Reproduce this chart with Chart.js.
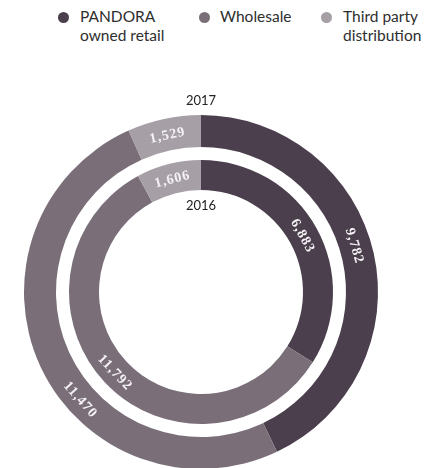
<!DOCTYPE html>
<html>
<head>
<meta charset="utf-8">
<script src="https://cdn.jsdelivr.net/npm/chart.js@4/dist/chart.umd.min.js"></script>
<style>
  html, body { margin: 0; padding: 0; background: #fff; overflow: hidden; }
  body { width: 439px; height: 468px; position: relative; }
  #wrap { position: absolute; left: 0; top: 0; width: 439px; height: 470px; }
  .lg { position: absolute; top: 7px; font: 15.5px Lato, sans-serif; line-height: 19px; color: #2e2e2e; }
  .dot { position: absolute; width: 11px; height: 11px; border-radius: 50%; top: 12px; }
</style>
</head>
<body>
<div id="legend"></div>
<div id="wrap"><canvas id="ringChart"></canvas></div>
<script>
let categories = ['PANDORA\nowned retail', 'Wholesale', 'Third party\ndistribution'];
let colors = ['#4b3f4d', '#7a6f79', '#a69fa6'];
let years = ['2017', '2016'];
let values2017 = [9782, 11470, 1529];
let values2016 = [6883, 11792, 1606];

// legend, html so the two-line labels wrap like the original
let legendPos = [[58, 80], [199, 220], [321, 343]];
let legend = document.getElementById('legend');
categories.forEach((c, i) => {
    let dot = document.createElement('div');
    dot.className = 'dot';
    dot.style.left = legendPos[i][0] + 'px';
    dot.style.background = colors[i];
    legend.appendChild(dot);
    let txt = document.createElement('div');
    txt.className = 'lg';
    txt.style.left = legendPos[i][1] + 'px';
    txt.innerHTML = c.replace('\n', '<br>');
    legend.appendChild(txt);
});

// small angle nudges (degrees) so labels sit where the original put them
let labelNudge = { 0: [-4, -17, 0], 2: [0, 0, 0] };

const ringLabels = {
    id: 'ringLabels',
    afterDatasetsDraw(chart) {
        let ctx = chart.ctx;
        ctx.save();
        ctx.fillStyle = '#f4f2f4';
        ctx.font = 'bold 14px "Liberation Serif", serif';
        ctx.letterSpacing = '1px';
        ctx.textAlign = 'center';
        ctx.textBaseline = 'middle';
        [0, 2].forEach(di => {
            let meta = chart.getDatasetMeta(di);
            meta.data.forEach((arc, i) => {
                let a = (arc.startAngle + arc.endAngle) / 2 + labelNudge[di][i] * Math.PI / 180;
                let r = (arc.innerRadius + arc.outerRadius) / 2;
                let x = arc.x + r * Math.cos(a);
                let y = arc.y + r * Math.sin(a);
                let rot = a + Math.PI / 2;
                while (rot > Math.PI) rot -= 2 * Math.PI;
                while (rot < -Math.PI) rot += 2 * Math.PI;
                if (rot > Math.PI / 2) rot -= Math.PI;
                if (rot < -Math.PI / 2) rot += Math.PI;
                ctx.save();
                ctx.translate(x, y);
                ctx.rotate(rot);
                ctx.fillText(chart.data.datasets[di].data[i].toLocaleString('en-US'), 0, 1);
                ctx.restore();
            });
        });
        // year captions
        let m0 = chart.getDatasetMeta(0).data[0];
        let m2 = chart.getDatasetMeta(2).data[0];
        ctx.letterSpacing = '0px';
        ctx.fillStyle = '#222';
        ctx.font = '13px Lato, sans-serif';
        ctx.fillText(years[0], m0.x, m0.y - m0.outerRadius - 14);
        ctx.fillText(years[1], m2.x, m2.y - m2.innerRadius + 16);
        ctx.restore();
    }
};

let chart = new Chart(document.getElementById('ringChart'), {
    type: 'doughnut',
    data: {
        labels: categories,
        datasets: [
            { label: years[0], data: values2017, backgroundColor: colors, weight: 32 },
            { label: 'gap', data: [1], backgroundColor: ['rgba(0,0,0,0)'], weight: 13 },
            { label: years[1], data: values2016, backgroundColor: colors, weight: 30 }
        ]
    },
    options: {
        responsive: true,
        maintainAspectRatio: false,
        animation: false,
        cutout: 102,
        borderWidth: 0,
        hoverOffset: 0,
        offset: 0,
        layout: { padding: { top: 115, left: 24, right: 61, bottom: 1 } },
        plugins: { legend: { display: false }, tooltip: { enabled: false } }
    },
    plugins: [ringLabels]
});
</script>
</body>
</html>
